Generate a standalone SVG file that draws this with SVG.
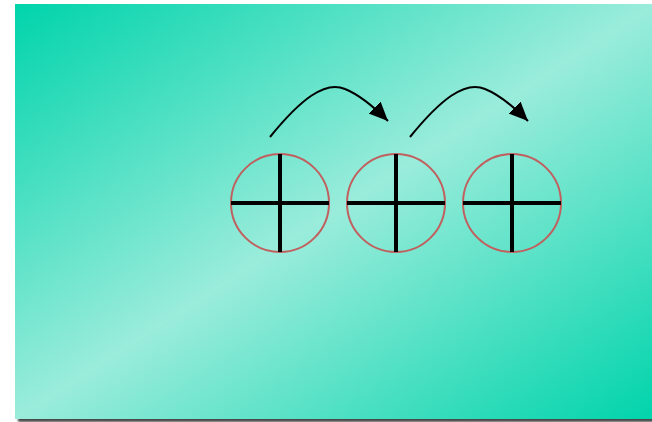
<svg xmlns="http://www.w3.org/2000/svg" width="652" height="422" viewBox="0 0 652 422">
  <defs>
    <linearGradient id="bg" x1="0" y1="0" x2="1" y2="1">
      <stop offset="0" stop-color="#00d4ab"/>
      <stop offset="0.5" stop-color="#9aecdb"/>
      <stop offset="1" stop-color="#00d4ab"/>
    </linearGradient>
    <filter id="sh" x="-5%" y="-5%" width="110%" height="110%">
      <feGaussianBlur stdDeviation="1"/>
    </filter>
    <marker id="ah" markerUnits="userSpaceOnUse" markerWidth="21" markerHeight="18" refX="19" refY="8.5" orient="auto">
      <path d="M0,0 L19,8.5 L0,17 Z" fill="#000"/>
    </marker>
  </defs>
  <style>
    .ring { fill: none; stroke: #c0605f; stroke-width: 2; }
    .cross { stroke: #000; stroke-width: 4; }
    .arc { fill: none; stroke: #000; stroke-width: 2; marker-end: url(#ah); }
  </style>
  <rect x="18" y="7" width="640" height="415" fill="#4a4a4a" filter="url(#sh)"/>
  <rect x="15" y="4" width="640" height="415" fill="url(#bg)"/>
  <g id="node1">
    <circle class="ring" cx="280" cy="203" r="49"/>
    <line class="cross" x1="231" y1="203" x2="329" y2="203"/>
    <line class="cross" x1="280" y1="154" x2="280" y2="252"/>
  </g>
  <g id="node2">
    <circle class="ring" cx="396" cy="203" r="49"/>
    <line class="cross" x1="347" y1="203" x2="445" y2="203"/>
    <line class="cross" x1="396" y1="154" x2="396" y2="252"/>
  </g>
  <g id="node3">
    <circle class="ring" cx="512" cy="203" r="49"/>
    <line class="cross" x1="463" y1="203" x2="561" y2="203"/>
    <line class="cross" x1="512" y1="154" x2="512" y2="252"/>
  </g>
  <g id="connectors">
    <path class="arc" d="M270,137 C300,100 325,80 345,89 C360,95 375,108 388,121"/>
    <path class="arc" d="M410,137 C440,100 465,80 485,89 C500,95 515,108 528,121"/>
  </g>
</svg>
